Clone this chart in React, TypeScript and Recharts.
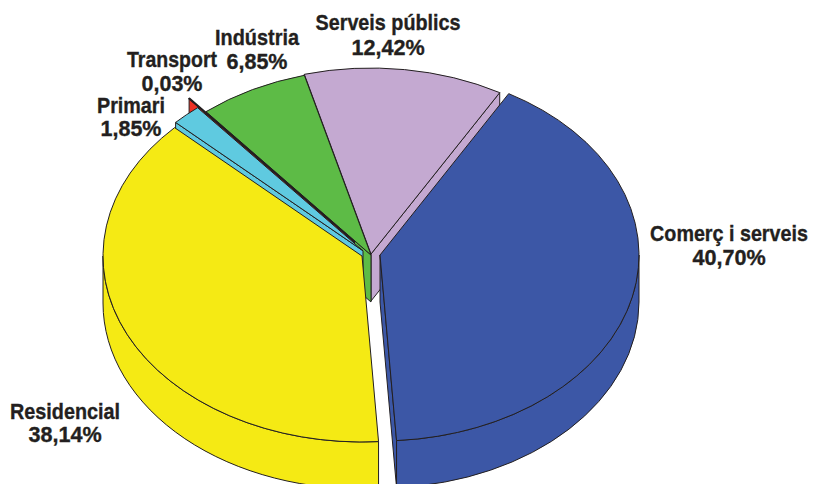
import React from "react";
import { PieChart, Pie } from "recharts";

const sectors = ["Comerç i serveis", "Residencial", "Primari", "Transport", "Indústria", "Serveis públics"];
const shares = [40.7, 38.14, 1.85, 0.03, 6.85, 12.42];
const shareLabels = ["40,70%", "38,14%", "1,85%", "0,03%", "6,85%", "12,42%"];
const colors = ["#3c57a6", "#f5ea14", "#5fcae0", "#ee3124", "#5dbb46", "#c4a9d1"];

const data = sectors.map((name, i) => ({ name, value: shares[i] }));

// how far each slice is pulled out of the pie, in px
const explode: { [key: string]: [number, number] } = {
  "Comerç i serveis": [9, 0],
  Residencial: [-9, 1],
  Primari: [-8, -4.2],
  Transport: [-16.5, -13.2],
  Indústria: [0, 0],
  "Serveis públics": [0, -1],
};

// label centres, first line / second line
const labelPos: { [key: string]: [number, number, number] } = {
  "Comerç i serveis": [729, 241, 265],
  Residencial: [65, 419, 442],
  Primari: [131, 113, 136],
  Transport: [172, 67, 91],
  Indústria: [257, 45, 69],
  "Serveis públics": [388, 30, 55],
};

const labelWidth: { [key: string]: number } = {
  "Comerç i serveis": 158,
  Residencial: 110,
  Primari: 68,
  Transport: 90,
  Indústria: 84,
  "Serveis públics": 145,
};

const INK = "#231f20";
const TILT = 0.718;
const DEPTH = 47;
const RAD = Math.PI / 180;
const FONT = "700 22px 'Liberation Sans'";

// back to front, the second Transport pass is its thick top edge lying over Primari
const drawOrder: { name: string; topOnly?: boolean }[] = [
  { name: "Serveis públics" },
  { name: "Indústria" },
  { name: "Transport" },
  { name: "Primari" },
  { name: "Transport", topOnly: true },
  { name: "Comerç i serveis" },
  { name: "Residencial" },
];

const measure = document.createElement("canvas").getContext("2d")!;

function makeShape(only: string, topOnly?: boolean) {
  return (props: any) => {
    const { cx, cy, outerRadius: rx, startAngle: s, endAngle: e, name, payload } = props;
    const sliceName = name ?? payload?.name;
    if (sliceName !== only) return <g />;
    const [ox, oy] = explode[sliceName];
    const ax = cx + ox;
    const ay = cy + oy;
    const ry = rx * TILT;
    const px = (a: number) => ax + rx * Math.cos(a * RAD);
    const py = (a: number) => ay - ry * Math.sin(a * RAD);
    const fill = colors[sectors.indexOf(sliceName)];

    const face = (a: number) =>
      `M${ax},${ay} L${px(a)},${py(a)} L${px(a)},${py(a) + DEPTH} L${ax},${ay + DEPTH} Z`;

    const parts: string[] = [];
    if (!topOnly) {
      if (Math.cos(s * RAD) < 0) parts.push(face(s));
      if (Math.cos(e * RAD) > 0) parts.push(face(e));
      const hi = Math.min(s, 0);
      const lo = Math.max(e, -180);
      if (hi > lo) {
        const large = hi - lo > 180 ? 1 : 0;
        parts.push(
          `M${px(hi)},${py(hi)} A${rx},${ry} 0 ${large} 1 ${px(lo)},${py(lo)} ` +
            `L${px(lo)},${py(lo) + DEPTH} A${rx},${ry} 0 ${large} 0 ${px(hi)},${py(hi) + DEPTH} Z`
        );
      }
    }
    const large = s - e > 180 ? 1 : 0;
    const top = `M${ax},${ay} L${px(s)},${py(s)} A${rx},${ry} 0 ${large} 1 ${px(e)},${py(e)} Z`;
    return (
      <g>
        {parts.map((d, i) => (
          <path key={i} d={d} fill={fill} stroke={INK} strokeWidth={1} strokeLinejoin="round" />
        ))}
        <path d={top} fill={fill} stroke={INK} strokeWidth={topOnly ? 1.8 : 1} strokeLinejoin="round" />
      </g>
    );
  };
}

// squeezed text, the reference uses a condensed bold
const Squeezed = ({ x, y, width, children }: { x: number; y: number; width: number; children: string }) => {
  measure.font = FONT;
  const sx = width / measure.measureText(children).width;
  return (
    <text
      transform={`translate(${x},${y}) scale(${sx},1)`}
      textAnchor="middle"
      fontFamily="'Liberation Sans', Arial, sans-serif"
      fontWeight={700}
      fontSize={22}
      fill={INK}
      stroke={INK}
      strokeWidth={0.35}
    >
      {children}
    </text>
  );
};

const renderLabel = (props: any) => {
  const name = props.name ?? props.payload?.name;
  const [x, y1, y2] = labelPos[name];
  const share = shareLabels[sectors.indexOf(name)];
  return (
    <g key={name}>
      <Squeezed x={x} y={y1} width={labelWidth[name]}>
        {name}
      </Squeezed>
      <Squeezed x={x} y={y2} width={share.length * 12.2}>
        {share}
      </Squeezed>
    </g>
  );
};

export default function App() {
  return (
    <div style={{ position: "absolute", left: 0, top: 0, width: 813, height: 484, background: "#fff" }}>
      <PieChart
        width={813}
        height={484}
        margin={{ top: 0, right: 0, bottom: 0, left: 0 }}
        style={{ overflow: "visible" }}
      >
        {drawOrder.map((d, i) => (
          <Pie
            key={i}
            data={data}
            dataKey="value"
            nameKey="name"
            cx={371}
            cy={255}
            outerRadius={259}
            startAngle={60.2}
            endAngle={-299.8}
            stroke="none"
            shape={makeShape(d.name, d.topOnly)}
            isAnimationActive={false}
            label={i === drawOrder.length - 1 ? renderLabel : false}
            labelLine={false}
          />
        ))}
      </PieChart>
    </div>
  );
}
